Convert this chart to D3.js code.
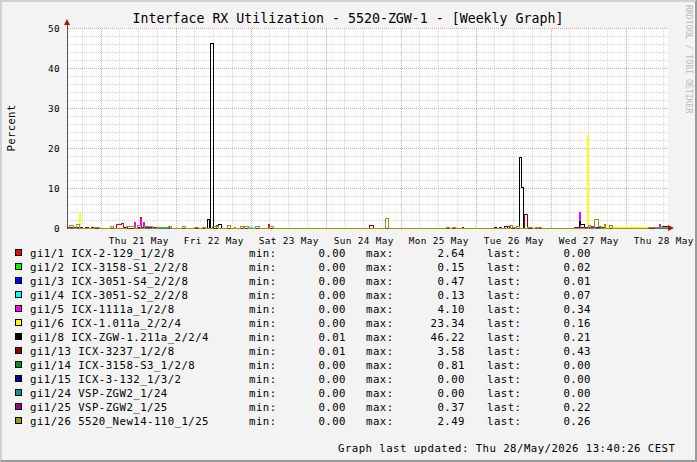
<!DOCTYPE html>
<html>
<head>
<meta charset="utf-8">
<script src="https://cdn.jsdelivr.net/npm/d3@7"></script>
<style>
body{margin:0;background:#f3f3f3;}
svg text{font-family:"DejaVu Sans Mono",monospace;}
</style>
</head>
<body>
<script>
// legend
var names = ["gi1/1 ICX-2-129_1/2/8","gi1/2 ICX-3158-S1_2/2/8","gi1/3 ICX-3051-S4_2/2/8","gi1/4 ICX-3051-S2_2/2/8",
             "gi1/5 ICX-1111a_1/2/8","gi1/6 ICX-1.011a_2/2/4","gi1/8 ICX-ZGW-1.211a_2/2/4","gi1/13 ICX-3237_1/2/8",
             "gi1/14 ICX-3158-S3_1/2/8","gi1/15 ICX-3-132_1/3/2","gi1/24 VSP-ZGW2_1/24","gi1/25 VSP-ZGW2_1/25",
             "gi1/26 5520_New14-110_1/25"];
var colors = ["#FF0000","#00FF00","#0000FF","#00FFFF","#FF00FF","#FFFF00","#000000","#990000","#009900","#000099","#009999","#990099","#999900"];
var mins  = ["0.00","0.00","0.00","0.00","0.00","0.00","0.01","0.01","0.00","0.00","0.00","0.00","0.00"];
var maxs  = ["2.64","0.15","0.47","0.13","4.10","23.34","46.22","3.58","0.81","0.00","0.00","0.37","2.49"];
var lasts = ["0.00","0.02","0.01","0.07","0.34","0.16","0.21","0.43","0.00","0.00","0.00","0.22","0.26"];

var yTicks = [0,10,20,30,40,50];
var dayLabels = ["21 12:00","22 12:00","23 12:00","24 12:00","25 12:00","26 12:00","27 12:00","28 12:00"];

// step data: [day hh:mm (May 2026), percent from that time on]
var gi1_1 = [["21 05:00",1.0],["21 06:30",1.3],["21 07:00",0],["21 12:30",2.64],["21 13:00",0],["23 05:30",1.0],["23 06:00",0]];
var gi1_2 = [["22 12:30",0.15],["22 13:00",0.02]];
var gi1_3 = [["26 06:00",0.3],["26 06:30",0],["26 09:00",0.47],["26 10:00",0.01]];
var gi1_4 = [["22 23:30",0.13],["23 00:30",0],["28 07:00",0.07]];
var gi1_5 = [["21 10:30",1.6],["21 11:00",0.1],["21 12:30",2.2],["21 13:00",0.3],["21 13:30",1.4],["21 14:00",0.1],
             ["27 09:00",4.10],["27 09:30",0.2],["27 13:00",0.5],["27 14:00",0.1],["28 10:30",1.0],["28 11:00",0.34]];
var gi1_6 = [["20 17:00",3.7],["20 17:30",0],["22 12:30",0.5],["22 13:00",0],["27 11:30",23.34],["27 12:00",0.16]];
var gi1_8 = [["22 10:00",2.25],["22 10:30",0.05],["22 11:00",46.22],["22 12:00",0.05],["22 13:30",1.0],["22 14:30",0.05],
             ["26 14:00",17.7],["26 14:30",10.2],["26 15:00",0.05],["27 09:00",1.75],["27 09:30",1.0],["27 10:30",0.1],["28 12:00",0.21]];
var gi1_13 = [["20 15:00",0.35],["20 17:00",0.05],["20 19:00",0.3],["20 20:00",0.05],["20 21:00",0.3],["20 21:30",0.05],
              ["21 07:30",0.3],["21 08:30",0.05],["24 14:00",0.75],["24 15:00",0.05],["25 19:30",0.3],["25 20:00",0.05],
              ["26 07:30",0.3],["26 08:00",0.05],["26 10:00",0.45],["26 10:30",0.05],["26 11:30",0.3],["26 12:30",0.05],
              ["26 15:30",3.58],["26 16:30",0.05],["27 07:30",0.2],["27 09:00",0.05],["27 16:00",0.3],["27 17:00",0.05],["28 11:30",0.43]];
var gi1_14 = [["22 13:00",0.81],["22 13:30",0]];
var gi1_15 = [];
var gi1_24 = [];
var gi1_25 = [["20 13:13",0.3],["20 18:00",0.1],["21 08:00",0.37],["21 08:30",0.05],["21 12:00",0.2],["21 22:00",0.05],
              ["27 07:30",0.25],["27 16:00",0.05],["28 09:00",0.22]];
var gi1_26 = [["20 14:00",0.75],["20 15:00",0],["20 16:00",1.0],["20 17:00",0],["20 22:00",0.35],["20 23:30",0],
              ["21 03:00",0.4],["21 04:00",0],["21 08:00",0.5],["21 10:30",0],["21 11:30",0.75],["21 12:30",0],
              ["21 14:00",0.6],["21 15:00",0.45],["21 16:30",0],["21 18:00",0.2],["21 21:30",0.5],["21 22:30",0],
              ["22 02:00",0.5],["22 03:00",0],["22 06:00",0.3],["22 07:00",0],["22 08:30",0.3],["22 09:30",0],
              ["22 11:30",0.6],["22 13:30",0],["22 16:30",0.75],["22 17:30",0],["22 18:30",0.3],["22 19:00",0],
              ["22 20:30",0.45],["22 21:30",0],["22 22:00",0.45],["22 23:00",0],["23 01:30",0.5],["23 02:30",0],
              ["23 06:00",0.5],["23 07:00",0],["24 19:00",2.49],["24 20:00",0],["25 14:30",0.3],["25 15:30",0],
              ["25 16:30",0.3],["25 17:30",0],["26 11:00",0.75],["26 11:30",0.3],["26 12:30",0],["26 13:00",0.5],
              ["26 14:00",0],["26 16:30",0.3],["26 18:00",0],["26 19:00",0.3],["26 19:30",0],["26 20:00",0.3],
              ["26 21:00",0],["27 12:00",0.7],["27 12:30",0],["27 14:00",2.25],["27 15:00",0.5],["27 16:00",0],
              ["27 17:00",1.0],["27 17:30",0],["27 18:30",0.75],["27 19:30",0],["28 07:00",0.3],["28 10:30",0.26]];
var seriesData = [gi1_1,gi1_2,gi1_3,gi1_4,gi1_5,gi1_6,gi1_8,gi1_13,gi1_14,gi1_15,gi1_24,gi1_25,gi1_26];

function t(s){ var p = s.split(/[ :]/); return new Date(2026, 4, +p[0], +p[1], +p[2]); }

var W = 697, H = 462;
var svg = d3.select("body").append("svg").attr("width", W).attr("height", H);

// frame
svg.append("rect").attr("width", W).attr("height", H).attr("fill", "#f3f3f3");
svg.append("path").attr("d", "M0,0.5H697M0.5,0V462M0,1.5H696M1.5,0V461").attr("stroke", "#d0d0d0").attr("fill", "none");
svg.append("path").attr("d", "M696.5,0V462M0,461.5H697M695.5,1V461M1,460.5H697").attr("stroke", "#9a9a9a").attr("fill", "none");

var x = d3.scaleTime().domain([t("20 13:13"), t("28 13:13")]).range([67, 667]),
    y = d3.scaleLinear().domain([0, 50]).range([228, 28]);

svg.append("rect").attr("x", 67).attr("y", 28).attr("width", 601).attr("height", 200).attr("fill", "#fff");

var g = svg.append("g").attr("transform", "translate(0.5,0.5)").attr("shape-rendering", "crispEdges");

// grid
var minorY = d3.range(2, 51, 2).filter(function(v){ return v % 10 != 0; });
g.selectAll(".gy").data(minorY).enter().append("line")
  .attr("x1", 67).attr("x2", 667).attr("y1", function(d){ return Math.round(y(d)); }).attr("y2", function(d){ return Math.round(y(d)); })
  .attr("stroke", "#d8d8d8").attr("stroke-dasharray", "1,1");
var minorX = d3.timeHour.every(6).range(x.domain()[0], x.domain()[1]).filter(function(d){ return d.getHours() != 0; });
g.selectAll(".gx").data(minorX).enter().append("line")
  .attr("y1", 28).attr("y2", 228).attr("x1", function(d){ return Math.round(x(d)); }).attr("x2", function(d){ return Math.round(x(d)); })
  .attr("stroke", "#d8d8d8").attr("stroke-dasharray", "1,1");
g.selectAll(".my").data(yTicks.slice(1)).enter().append("line")
  .attr("x1", 67).attr("x2", 667).attr("y1", function(d){ return Math.round(y(d)); }).attr("y2", function(d){ return Math.round(y(d)); })
  .attr("stroke", "#f2a0a0").attr("stroke-dasharray", "1,1");
var majorX = d3.timeDay.range(x.domain()[0], x.domain()[1]);
g.selectAll(".mx").data(majorX).enter().append("line")
  .attr("y1", 28).attr("y2", 228).attr("x1", function(d){ return Math.round(x(d)); }).attr("x2", function(d){ return Math.round(x(d)); })
  .attr("stroke", "#f2a0a0").attr("stroke-dasharray", "1,1");

// axes lines
g.append("line").attr("x1", 67).attr("x2", 668).attr("y1", 228).attr("y2", 228).attr("stroke", "#555");
g.append("line").attr("x1", 67).attr("x2", 67).attr("y1", 228).attr("y2", 23).attr("stroke", "#555");

// series
var line = d3.line()
  .x(function(d){ return Math.round(x(d[0])); })
  .y(function(d){ return Math.round(y(d[1])); })
  .curve(d3.curveStepAfter);
seriesData.forEach(function(s, i){
  var pts = [[x.domain()[0], 0]];
  s.forEach(function(d){ pts.push([t(d[0]), d[1]]); });
  pts.push([x.domain()[1], pts[pts.length - 1][1]]);
  g.append("path").attr("d", line(pts)).attr("fill", "none").attr("stroke", colors[i]).attr("stroke-width", 1);
});

// arrows
svg.append("path").attr("d", "M64,25L70,25L67,19Z").attr("fill", "#a01818");
svg.append("path").attr("d", "M668,225L668,231L674,228Z").attr("fill", "#a01818");

// axis labels
svg.append("g").attr("transform", "translate(0,228)")
  .call(d3.axisBottom(x).tickValues(dayLabels.map(t)).tickFormat(d3.timeFormat("%a %d %b")).tickSize(0).tickPadding(9))
  .call(function(a){ a.select(".domain").remove(); a.selectAll("text").attr("font-family", "DejaVu Sans Mono").attr("font-size", "9.4px").attr("letter-spacing", "0.35px").attr("fill", "#000"); });
svg.append("g").attr("transform", "translate(67,0)")
  .call(d3.axisLeft(y).tickValues(yTicks).tickSize(0).tickPadding(7))
  .call(function(a){ a.select(".domain").remove(); a.selectAll("text").attr("font-family", "DejaVu Sans Mono").attr("font-size", "9.4px").attr("letter-spacing", "0.35px").attr("fill", "#000"); });

// titles
svg.append("text").attr("x", 348).attr("y", 23).attr("text-anchor", "middle").attr("font-size", "13.25px").attr("fill", "#000")
  .text("Interface RX Utilization - 5520-ZGW-1 - [Weekly Graph]");
svg.append("text").attr("transform", "translate(15,128) rotate(-90)").attr("text-anchor", "middle").attr("font-size", "10.7px").attr("letter-spacing", "0.3px").attr("fill", "#000")
  .text("Percent");
svg.append("text").attr("transform", "translate(685.5,5) rotate(90)").attr("font-size", "8.2px").attr("fill", "#bbbbbb")
  .text("RRDTOOL / TOBI OETIKER");

// legend
var leg = svg.append("g").attr("font-size", "10.7px").attr("letter-spacing", "0.45px").attr("fill", "#000");
names.forEach(function(n, i){
  var yy = 257 + i * 14;
  leg.append("rect").attr("x", 15.5).attr("y", yy - 7.5).attr("width", 6).attr("height", 6)
     .attr("fill", colors[i]).attr("stroke", "#000");
  leg.append("text").attr("x", 30).attr("y", yy).text(n);
  leg.append("text").attr("x", 249).attr("y", yy).text("min:");
  leg.append("text").attr("x", 346).attr("y", yy).attr("text-anchor", "end").text(mins[i]);
  leg.append("text").attr("x", 366).attr("y", yy).text("max:");
  leg.append("text").attr("x", 465).attr("y", yy).attr("text-anchor", "end").text(maxs[i]);
  leg.append("text").attr("x", 487).attr("y", yy).text("last:");
  leg.append("text").attr("x", 591).attr("y", yy).attr("text-anchor", "end").text(lasts[i]);
});
leg.append("text").attr("x", 338).attr("y", 452).text("Graph last updated: Thu 28/May/2026 13:40:26 CEST");
</script>
</body>
</html>
